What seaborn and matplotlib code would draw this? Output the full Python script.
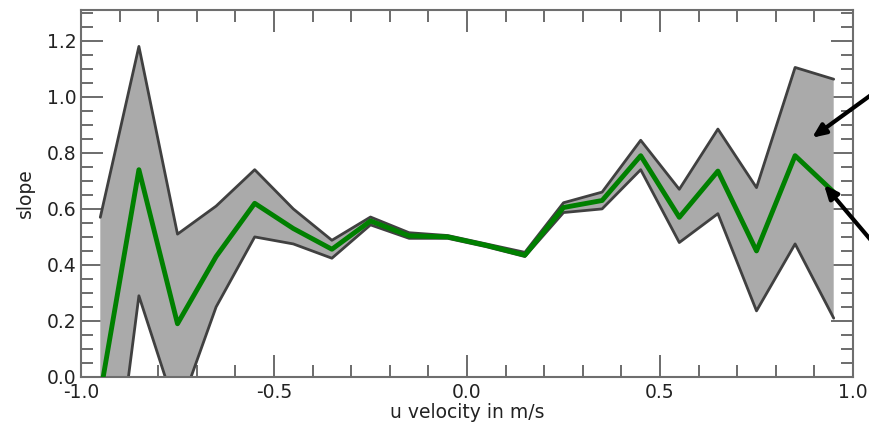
import matplotlib
matplotlib.use("Agg")
import matplotlib.pyplot as plt
import seaborn as sns
import pandas as pd

# ---- data ----
u_velocity = [-0.95, -0.85, -0.75, -0.65, -0.55, -0.45, -0.35, -0.25, -0.15, -0.05,
              0.05, 0.15, 0.25, 0.35, 0.45, 0.55, 0.65, 0.75, 0.85, 0.95]
slope_mean = [-0.06, 0.74, 0.19, 0.43, 0.62, 0.53, 0.456, 0.557, 0.504, 0.50,
              0.47, 0.435, 0.605, 0.63, 0.79, 0.57, 0.735, 0.45, 0.79, 0.66]
slope_upper = [0.57, 1.18, 0.51, 0.61, 0.74, 0.60, 0.488, 0.571, 0.515, 0.505,
               0.475, 0.445, 0.622, 0.66, 0.845, 0.67, 0.885, 0.676, 1.105, 1.063]
slope_lower = [-0.78, 0.29, -0.135, 0.25, 0.50, 0.475, 0.424, 0.543, 0.495, 0.495,
               0.465, 0.43, 0.587, 0.60, 0.74, 0.48, 0.583, 0.236, 0.475, 0.21]

x_label = "u velocity in m/s"
y_label = "slope"

df = pd.DataFrame({"u": u_velocity, "mean": slope_mean,
                   "upper": slope_upper, "lower": slope_lower})

sns.set_style("ticks")
plt.rcParams["font.family"] = ["DejaVu Sans"]
plt.rcParams["axes.unicode_minus"] = False

fig = plt.figure(figsize=(8.7, 4.22), dpi=100)
ax = fig.add_axes([81 / 870, 45 / 422, (853 - 81) / 870, (412 - 45) / 422])

ax.fill_between(df["u"], df["lower"], df["upper"], color="#aaaaaa", linewidth=0, zorder=1)
sns.lineplot(data=df, x="u", y="upper", ax=ax, color="#404040", linewidth=2, zorder=2)
sns.lineplot(data=df, x="u", y="lower", ax=ax, color="#404040", linewidth=2, zorder=2)
sns.lineplot(data=df, x="u", y="mean", ax=ax, color="#008000", linewidth=3.5, zorder=3)

ax.set_xlim(-1.0, 1.0)
ax.set_ylim(0.0, 1.31)
ax.set_xticks([-1.0, -0.5, 0.0, 0.5, 1.0])
ax.set_xticklabels(["-1.0", "-0.5", "0.0", "0.5", "1.0"])
ax.set_yticks([0.0, 0.2, 0.4, 0.6, 0.8, 1.0, 1.2])
ax.set_yticklabels(["0.0", "0.2", "0.4", "0.6", "0.8", "1.0", "1.2"])
ax.set_xticks([i / 10 for i in range(-10, 11)], minor=True)
ax.set_yticks([i * 0.05 for i in range(0, 27)], minor=True)

for s in ax.spines.values():
    s.set_color("#6e6e6e")
    s.set_linewidth(1.5)
    s.set_visible(True)

ax.tick_params(which="both", direction="in", top=True, right=True,
               color="#444444", width=1.1, labelsize=13.5, labelcolor="#222222")
ax.tick_params(which="major", length=16)
ax.tick_params(which="minor", length=8.5)
ax.tick_params(axis="x", which="major", pad=4)

ax.set_xlabel(x_label, fontsize=13.5, color="#222222", labelpad=1)
ax.set_ylabel(y_label, fontsize=13.5, color="#222222", labelpad=8)

# arrows pointing into the band and the mean line from outside the axes
ax.annotate("", xy=(0.894, 0.854), xytext=(1.07, 1.03), annotation_clip=False,
            arrowprops=dict(arrowstyle="-|>,head_length=0.8,head_width=0.35",
                            color="black", lw=3, shrinkA=0, shrinkB=0))
ax.annotate("", xy=(0.925, 0.686), xytext=(1.07, 0.45), annotation_clip=False,
            arrowprops=dict(arrowstyle="-|>,head_length=0.8,head_width=0.35",
                            color="black", lw=3, shrinkA=0, shrinkB=0))

fig.savefig("out.png", dpi=100)
